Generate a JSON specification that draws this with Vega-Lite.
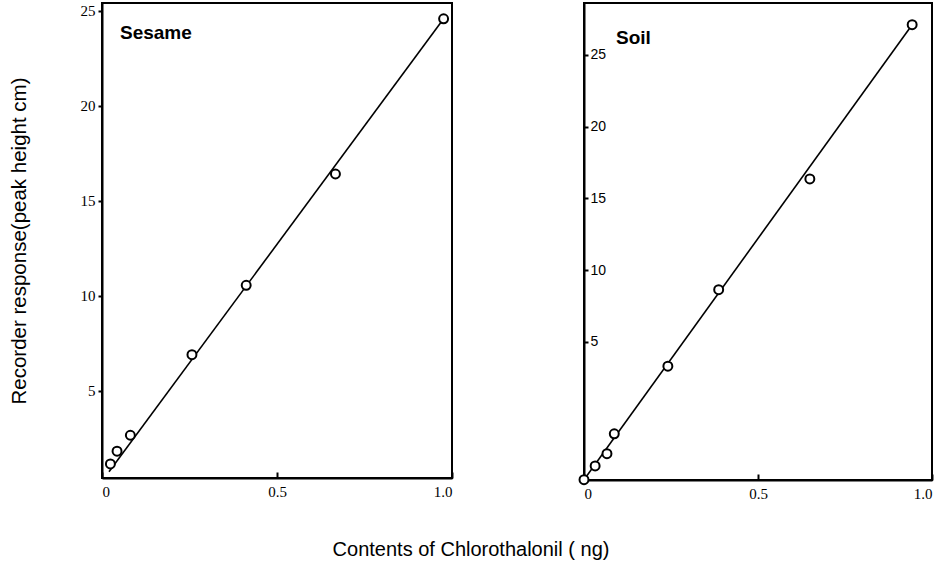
{
  "$schema": "https://vega.github.io/schema/vega-lite/v6.json",
  "background": "white",
  "padding": {"left": 8, "top": 2, "right": 5, "bottom": 5},
  "datasets": {
    "sesame": [
      {"x": 0.024, "y": 1.16, "kind": "point"},
      {"x": 0.043, "y": 1.83, "kind": "point"},
      {"x": 0.081, "y": 2.67, "kind": "point"},
      {"x": 0.257, "y": 6.91, "kind": "point"},
      {"x": 0.412, "y": 10.56, "kind": "point"},
      {"x": 0.667, "y": 16.42, "kind": "point"},
      {"x": 0.976, "y": 24.59, "kind": "point"},
      {"x": 0.02, "y": 0.75, "kind": "fit"},
      {"x": 0.976, "y": 24.59, "kind": "fit"}
    ],
    "soil": [
      {"x": 0.0, "y": -4.6, "kind": "point"},
      {"x": 0.032, "y": -3.64, "kind": "point"},
      {"x": 0.066, "y": -2.79, "kind": "point"},
      {"x": 0.087, "y": -1.4, "kind": "point"},
      {"x": 0.241, "y": 3.31, "kind": "point"},
      {"x": 0.387, "y": 8.64, "kind": "point"},
      {"x": 0.649, "y": 16.36, "kind": "point"},
      {"x": 0.943, "y": 27.11, "kind": "point"},
      {"x": 0.0, "y": -4.6, "kind": "fit"},
      {"x": 0.943, "y": 27.11, "kind": "fit"}
    ]
  },
  "title": {
    "text": "Contents  of  Chlorothalonil ( ng)",
    "orient": "bottom",
    "anchor": "middle",
    "font": "Liberation Sans",
    "fontSize": 20,
    "fontWeight": "normal",
    "color": "black",
    "offset": 38
  },
  "config": {
    "view": {"stroke": "black", "strokeWidth": 2},
    "axis": {
      "grid": false,
      "domainColor": "black",
      "domainWidth": 2,
      "tickColor": "black",
      "tickWidth": 2,
      "labelColor": "black"
    }
  },
  "spacing": 120,
  "hconcat": [
    {
      "width": 350,
      "height": 475,
      "title": {"text": "Sesame", "anchor": "start", "frame": "group", "offset": -40, "dx": 18, "font": "Liberation Sans", "fontSize": 19, "fontWeight": "bold", "color": "black"},
      "data": {"name": "sesame"},
      "encoding": {
        "x": {
          "field": "x", "type": "quantitative",
          "scale": {"domain": [0, 1], "nice": false, "zero": false},
          "axis": {"values": [0, 0.5, 1], "title": null, "tickSize": -6, "labelPadding": 12,
                   "labelExpr": "datum.value == 0 ? '0' : format(datum.value, '.1f')",
                   "labelFont": "Liberation Serif", "labelFontSize": 15}
        },
        "y": {
          "field": "y", "type": "quantitative",
          "scale": {"domain": [0.42, 25.42], "nice": false, "zero": false},
          "axis": {"values": [5, 10, 15, 20, 25], "tickSize": 4, "labelPadding": 3,
                   "labelFont": "Liberation Serif", "labelFontSize": 15,
                   "title": "Recorder response(peak height cm)",
                   "titleFont": "Liberation Sans", "titleFontSize": 20.5, "titleFontWeight": "normal",
                   "titleColor": "black", "titlePadding": 51}
        }
      },
      "layer": [
        {"transform": [{"filter": "datum.kind == 'fit'"}], "mark": {"type": "line", "color": "black", "strokeWidth": 1.6}},
        {"transform": [{"filter": "datum.kind == 'point'"}], "mark": {"type": "point", "shape": "circle", "size": 80, "filled": false, "fill": "white", "fillOpacity": 1, "stroke": "black", "strokeWidth": 2, "opacity": 1}}
      ]
    },
    {
      "width": 348,
      "height": 477,
      "title": {"text": "Soil", "anchor": "start", "frame": "group", "offset": -45, "dx": 32, "font": "Liberation Sans", "fontSize": 19, "fontWeight": "bold", "color": "black"},
      "data": {"name": "soil"},
      "encoding": {
        "x": {
          "field": "x", "type": "quantitative",
          "scale": {"domain": [0, 1], "nice": false, "zero": false},
          "axis": {"values": [0, 0.5, 1], "title": null, "tickSize": -6, "labelPadding": 12,
                   "labelExpr": "datum.value == 0 ? '0' : format(datum.value, '.1f')",
                   "labelFont": "Liberation Serif", "labelFontSize": 15}
        },
        "y": {
          "field": "y", "type": "quantitative",
          "scale": {"domain": [-4.62, 28.62], "nice": false, "zero": false},
          "axis": {"values": [5, 10, 15, 20, 25], "tickSize": -4, "labelPadding": -2, "labelAlign": "left",
                   "labelFont": "Liberation Sans", "labelFontSize": 14, "title": null}
        }
      },
      "layer": [
        {"transform": [{"filter": "datum.kind == 'fit'"}], "mark": {"type": "line", "color": "black", "strokeWidth": 1.6}},
        {"transform": [{"filter": "datum.kind == 'point'"}], "mark": {"type": "point", "shape": "circle", "size": 80, "filled": false, "fill": "white", "fillOpacity": 1, "stroke": "black", "strokeWidth": 2, "opacity": 1}}
      ]
    }
  ]
}
